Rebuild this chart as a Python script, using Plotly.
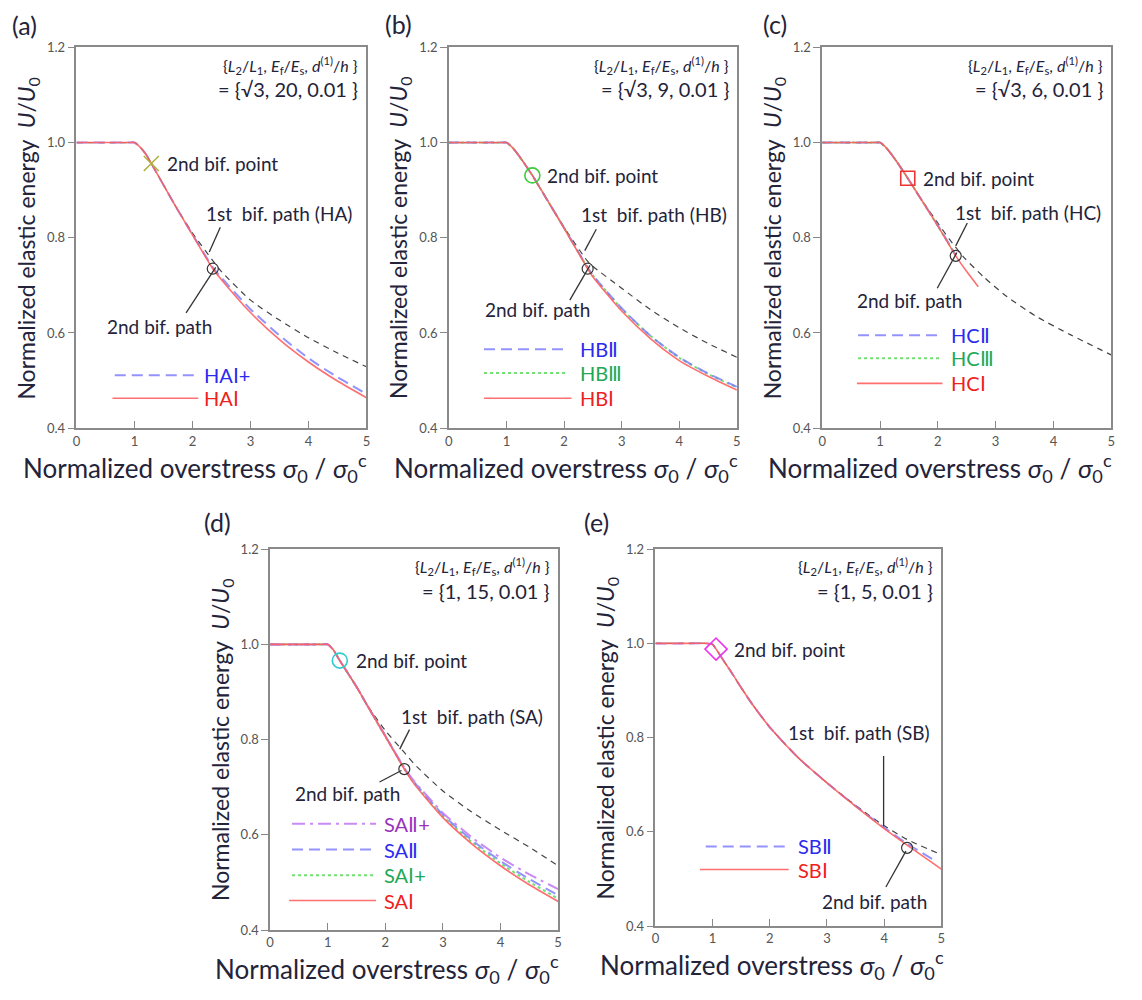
import plotly.graph_objects as go

W, H = 1142, 1000

# ------------------------------------------------------------------ data
# (a)  {sqrt3, 20, 0.01}
sig_a = [0, 0.5, 0.9, 1.0, 1.1, 1.2, 1.3, 1.5, 1.7, 2.0, 2.35, 2.5, 3.0, 3.5, 4.0, 4.5, 5.0]
U_HA1st = [1, 1, 1, 1.0, 0.99, 0.975, 0.954, 0.911, 0.868, 0.810, 0.752, 0.729, 0.669, 0.627, 0.590, 0.558, 0.529]
U_HAIp = [1, 1, 1, 1.0, 0.99, 0.975, 0.954, 0.911, 0.868, 0.807, 0.738, 0.716, 0.650, 0.595, 0.547, 0.507, 0.472]
U_HAI = [1, 1, 1, 1.0, 0.99, 0.975, 0.954, 0.911, 0.868, 0.806, 0.735, 0.712, 0.643, 0.586, 0.539, 0.499, 0.464]

# (b)  {sqrt3, 9, 0.01}
sig_b = [0, 0.5, 0.9, 1.0, 1.1, 1.2, 1.3, 1.45, 1.7, 2.0, 2.4, 2.5, 3.0, 3.5, 4.0, 4.5, 5.0]
U_HB1st = [1, 1, 1, 1.0, 0.99, 0.975, 0.958, 0.931, 0.881, 0.822, 0.752, 0.740, 0.694, 0.649, 0.611, 0.578, 0.549]
U_HBII = [1, 1, 1, 1.0, 0.99, 0.975, 0.958, 0.931, 0.881, 0.821, 0.739, 0.721, 0.652, 0.594, 0.549, 0.515, 0.487]
U_HBIII = [1, 1, 1, 1.0, 0.99, 0.975, 0.958, 0.931, 0.881, 0.821, 0.739, 0.721, 0.651, 0.594, 0.548, 0.514, 0.486]
U_HBI = [1, 1, 1, 1.0, 0.99, 0.975, 0.958, 0.931, 0.881, 0.820, 0.737, 0.718, 0.646, 0.588, 0.542, 0.509, 0.480]

# (c)  {sqrt3, 6, 0.01}
sig_c1st = [0, 0.5, 0.9, 1.0, 1.1, 1.2, 1.3, 1.48, 1.7, 1.85, 2.0, 2.2, 2.45, 2.8, 3.2, 3.7, 4.3, 5.0]
U_HC1st = [1, 1, 1, 1.0, 0.99, 0.975, 0.958, 0.925, 0.883, 0.857, 0.831, 0.797, 0.759, 0.717, 0.676, 0.635, 0.596, 0.554]
sig_c2 = [0, 0.5, 0.9, 1.0, 1.1, 1.2, 1.3, 1.48, 1.7, 2.0, 2.31]
U_HCII = [1, 1, 1, 1.0, 0.99, 0.975, 0.958, 0.925, 0.883, 0.826, 0.764]
U_HCIII = [1, 1, 1, 1.0, 0.99, 0.975, 0.958, 0.925, 0.883, 0.825, 0.763]
sig_c = [0, 0.5, 0.9, 1.0, 1.1, 1.2, 1.3, 1.48, 1.7, 2.0, 2.31, 2.5, 2.7]
U_HCI = [1, 1, 1, 1.0, 0.99, 0.975, 0.958, 0.925, 0.883, 0.825, 0.762, 0.729, 0.697]

# (d)  {1, 15, 0.01}
sig_d = [0, 0.5, 0.9, 1.0, 1.1, 1.21, 1.3, 1.5, 1.7, 2.0, 2.33, 2.5, 3.0, 3.5, 4.0, 4.5, 5.0]
U_SA1st = [1, 1, 1, 1.0, 0.988, 0.966, 0.949, 0.911, 0.870, 0.819, 0.773, 0.749, 0.692, 0.648, 0.610, 0.574, 0.535]
U_SAIIp = [1, 1, 1, 1.0, 0.988, 0.966, 0.949, 0.911, 0.869, 0.808, 0.741, 0.713, 0.646, 0.595, 0.552, 0.517, 0.486]
U_SAII = [1, 1, 1, 1.0, 0.988, 0.966, 0.949, 0.911, 0.869, 0.808, 0.740, 0.711, 0.642, 0.589, 0.545, 0.507, 0.473]
U_SAIp = [1, 1, 1, 1.0, 0.988, 0.966, 0.949, 0.911, 0.869, 0.807, 0.739, 0.709, 0.639, 0.585, 0.540, 0.501, 0.466]
U_SAI = [1, 1, 1, 1.0, 0.988, 0.966, 0.949, 0.911, 0.869, 0.807, 0.738, 0.707, 0.636, 0.581, 0.535, 0.495, 0.460]

# (e)  {1, 5, 0.01}
sig_e1st = [0, 0.5, 0.9, 1.0, 1.06, 1.2, 1.3, 1.5, 1.7, 2.0, 2.5, 3.0, 3.5, 4.0, 4.4, 4.95]
U_SB1st = [1, 1, 1, 0.998, 0.988, 0.962, 0.944, 0.906, 0.870, 0.822, 0.757, 0.704, 0.656, 0.613, 0.584, 0.554]
sig_e2 = [0, 0.5, 0.9, 1.0, 1.06, 1.2, 1.3, 1.5, 1.7, 2.0, 2.5, 3.0, 3.5, 4.0, 4.4, 4.9]
U_SBII = [1, 1, 1, 0.998, 0.988, 0.962, 0.944, 0.906, 0.870, 0.822, 0.757, 0.704, 0.655, 0.609, 0.575, 0.538]
sig_e = [0, 0.5, 0.9, 1.0, 1.06, 1.2, 1.3, 1.5, 1.7, 2.0, 2.5, 3.0, 3.5, 4.0, 4.4, 5.0]
U_SBI = [1, 1, 1, 0.998, 0.988, 0.962, 0.944, 0.906, 0.870, 0.822, 0.757, 0.704, 0.654, 0.607, 0.572, 0.521]

# 2nd bifurcation points (symbol markers) and 2nd-bif-path circles
bif2_x = [1.29, 1.45, 1.48, 1.21, 1.06]
bif2_y = [0.956, 0.931, 0.925, 0.966, 0.988]
path2_x = [2.35, 2.41, 2.31, 2.33, 4.40]
path2_y = [0.735, 0.735, 0.762, 0.738, 0.566]

panel_tags = ["(a)", "(b)", "(c)", "(d)", "(e)"]
param_vals = ["= {√3, 20, 0.01 }", "= {√3, 9, 0.01 }", "= {√3, 6, 0.01 }",
              "= {1, 15, 0.01 }", "= {1, 5, 0.01 }"]
path1_names = ["1st\u00a0 bif. path (HA)", "1st\u00a0 bif. path (HB)", "1st\u00a0 bif. path (HC)",
               "1st\u00a0 bif. path (SA)", "1st\u00a0 bif. path (SB)"]

x_ticks = [0, 1, 2, 3, 4, 5]
y_ticks = [0.4, 0.6, 0.8, 1.0, 1.2]

# ------------------------------------------------------------------ styles
TXT = "#23233a"
FONT = "Lato, 'Open Sans', sans-serif"
STY = {
    "red": dict(color="rgba(255,95,95,0.9)", width=1.6, dash="solid"),
    "blue": dict(color="rgba(120,120,255,0.8)", width=2, dash="11px,6px"),
    "green": dict(color="rgba(100,220,100,0.9)", width=2, dash="3px,3px"),
    "purple": dict(color="rgba(195,125,240,0.9)", width=2, dash="13px,5px,3px,5px"),
    "black": dict(color="#444444", width=1.2, dash="6px,5px"),
}
LBL = {"red": "#ee2020", "blue": "#2a2af0", "green": "#22a855", "purple": "#9933bb"}

# pixel layout of each plot area: left, right, top, bottom
boxes = [(73, 365, 40, 427), (448, 738, 40, 427), (824, 1115, 40, 427),
         (268, 558, 550, 937), (656, 944, 550, 933)]
tag_pos = [(6, 17), (382, 16), (762, 16), (199, 522), (582, 522)]

# series per panel: (x, y, style)
series = [
    [(sig_a, U_HA1st, "black"), (sig_a, U_HAIp, "blue"), (sig_a, U_HAI, "red")],
    [(sig_b, U_HB1st, "black"), (sig_b, U_HBIII, "green"), (sig_b, U_HBII, "blue"), (sig_b, U_HBI, "red")],
    [(sig_c1st, U_HC1st, "black"), (sig_c2, U_HCIII, "green"), (sig_c2, U_HCII, "blue"), (sig_c, U_HCI, "red")],
    [(sig_d, U_SA1st, "black"), (sig_d, U_SAIp, "green"), (sig_d, U_SAII, "blue"), (sig_d, U_SAIIp, "purple"), (sig_d, U_SAI, "red")],
    [(sig_e1st, U_SB1st, "black"), (sig_e2, U_SBII, "blue"), (sig_e, U_SBI, "red")],
]

# in-plot legend: (x0, x1, y, text_x, label, style)
legends = [
    [(0.66, 2.09, 0.511, 2.17, "HAⅠ+", "blue"), (0.62, 2.10, 0.463, 2.17, "HAⅠ", "red")],
    [(0.61, 2.07, 0.566, 2.24, "HBⅡ", "blue"), (0.61, 2.07, 0.516, 2.24, "HBⅢ", "green"),
     (0.61, 2.13, 0.463, 2.24, "HBⅠ", "red")],
    [(0.62, 2.04, 0.595, 2.20, "HCⅡ", "blue"), (0.62, 2.06, 0.547, 2.20, "HCⅢ", "green"),
     (0.60, 2.08, 0.494, 2.20, "HCⅠ", "red")],
    [(0.38, 1.84, 0.623, 1.94, "SAⅡ+", "purple"), (0.38, 1.84, 0.569, 1.94, "SAⅡ", "blue"),
     (0.38, 1.84, 0.515, 1.94, "SAⅠ+", "green"), (0.33, 1.84, 0.462, 1.94, "SAⅠ", "red")],
    [(0.88, 2.30, 0.569, 2.45, "SBⅡ", "blue"), (0.78, 2.33, 0.520, 2.45, "SBⅠ", "red")],
]

# text label anchors (data coords)
pt2_text = [(1.52, 0.956), (1.67, 0.931), (1.71, 0.925), (1.46, 0.966), (1.34, 0.988)]
path1_text = [(3.50, 0.852), (3.57, 0.849), (3.56, 0.854), (3.51, 0.849), (3.56, 0.810)]
path2_text = [(1.44, 0.613), (1.54, 0.649), (1.51, 0.669), (1.35, 0.687), (3.83, 0.452)]
# leader lines (x0, y0, x1, y1)
lead1 = [(2.48, 0.822, 2.29, 0.770), (2.56, 0.818, 2.36, 0.773), (2.51, 0.831, 2.31, 0.783),
         (2.42, 0.821, 2.25, 0.780), (3.99, 0.761, 3.99, 0.612)]
lead2 = [(1.89, 0.642, 2.40, 0.738), (2.10, 0.669, 2.45, 0.742), (1.99, 0.694, 2.33, 0.769),
         (1.90, 0.711, 2.28, 0.735), (4.03, 0.483, 4.38, 0.559)]

bif2_sym = ["x-thin-open", "circle-open", "square-open", "circle-open", "diamond-open"]
bif2_col = ["#b0b040", "#3ccc3c", "#ee3333", "#33cccc", "#ee33ee"]
bif2_size = [15, 15, 14, 15, 17]

# ------------------------------------------------------------------ figure
fig = go.Figure()
layout = dict(width=W, height=H, autosize=False, margin=dict(l=0, r=0, t=0, b=0),
              paper_bgcolor="white", plot_bgcolor="white", showlegend=False,
              font=dict(family=FONT, color=TXT))
annotations = []
shapes = []

for i in range(5):
    n = "" if i == 0 else str(i + 1)
    xa, ya = "x" + n, "y" + n
    l, r, t, b = boxes[i]
    common = dict(showline=True, linecolor="#8a8a8a", linewidth=1.5, mirror=True,
                  showgrid=False, zeroline=False, ticklen=7, tickwidth=1.2, tickcolor="#888",
                  tickfont=dict(size=13, color="#555", family=FONT))
    layout["xaxis" + n] = dict(common, domain=[l / W, r / W], anchor=ya, range=[0, 5],
                               tickvals=x_ticks, ticks="inside")
    layout["yaxis" + n] = dict(common, domain=[1 - b / H, 1 - t / H], anchor=xa, range=[0.4, 1.2],
                               tickvals=y_ticks, tickformat=".1f", ticks="outside")

    for (sx, sy, st) in series[i]:
        fig.add_trace(go.Scatter(x=sx, y=sy, mode="lines", line=dict(STY[st], shape="spline", smoothing=0.6),
                                 xaxis=xa, yaxis=ya, hoverinfo="skip"))

    # legend samples and labels
    for (x0, x1, yy, tx, lab, st) in legends[i]:
        shapes.append(dict(type="line", xref=xa, yref=ya, x0=x0, x1=x1, y0=yy, y1=yy, line=STY[st]))
        annotations.append(dict(xref=xa, yref=ya, x=tx, y=yy, text=lab, showarrow=False, xanchor="left",
                                yanchor="middle", font=dict(size=20, color=LBL[st], family=FONT)))

    # leader lines
    for ld in (lead1[i], lead2[i]):
        shapes.append(dict(type="line", xref=xa, yref=ya, x0=ld[0], y0=ld[1], x1=ld[2], y1=ld[3],
                           line=dict(color="#333", width=1.3)))

    # markers
    fig.add_trace(go.Scatter(x=[bif2_x[i]], y=[bif2_y[i]], mode="markers", xaxis=xa, yaxis=ya,
                             marker=dict(symbol=bif2_sym[i], size=bif2_size[i], color=bif2_col[i],
                                         line=dict(width=1.6, color=bif2_col[i])), hoverinfo="skip"))
    fig.add_trace(go.Scatter(x=[path2_x[i]], y=[path2_y[i]], mode="markers", xaxis=xa, yaxis=ya,
                             marker=dict(symbol="circle-open", size=11, color="#333",
                                         line=dict(width=1.2, color="#333")), hoverinfo="skip"))

    # annotation texts
    annotations.append(dict(xref=xa, yref=ya, x=pt2_text[i][0], y=pt2_text[i][1], text="2nd bif. point",
                            showarrow=False, xanchor="left", yanchor="middle", font=dict(size=19)))
    annotations.append(dict(xref=xa, yref=ya, x=path1_text[i][0], y=path1_text[i][1], text=path1_names[i],
                            showarrow=False, xanchor="center", yanchor="middle", font=dict(size=19)))
    annotations.append(dict(xref=xa, yref=ya, x=path2_text[i][0], y=path2_text[i][1], text="2nd bif. path",
                            showarrow=False, xanchor="center", yanchor="middle", font=dict(size=19)))

    # parameter box text
    annotations.append(dict(xref="paper", yref="paper", x=(r - 6) / W, y=1 - (t + 18) / H,
                            text="{<i>L</i><sub>2</sub>/<i>L</i><sub>1</sub>, <i>E</i><sub>f</sub>/<i>E</i><sub>s</sub>, "
                                 "<i>d</i><sup>(1)</sup>/<i>h</i> }",
                            showarrow=False, xanchor="right", yanchor="middle", font=dict(size=16)))
    annotations.append(dict(xref="paper", yref="paper", x=(r - 6) / W, y=1 - (t + 42) / H, text=param_vals[i],
                            showarrow=False, xanchor="right", yanchor="middle", font=dict(size=20)))

    # panel tag
    annotations.append(dict(xref="paper", yref="paper", x=tag_pos[i][0] / W, y=1 - tag_pos[i][1] / H,
                            text=panel_tags[i], showarrow=False, xanchor="left", yanchor="middle",
                            font=dict(size=25)))

    # axis titles
    annotations.append(dict(xref="paper", yref="paper", x=(l - 49) / W, y=1 - (t + b) / 2 / H,
                            text="Normalized elastic energy\u00a0 <i>U</i>/<i>U</i><sub>0</sub>",
                            textangle=-90, showarrow=False, xanchor="center", yanchor="middle",
                            font=dict(size=23)))
    annotations.append(dict(xref="paper", yref="paper", x=((l + r) / 2 - 27) / W, y=1 - (b + 40) / H,
                            text="Normalized overstress <i>σ</i><sub>0</sub> / <i>σ</i><sub>0</sub><sup>c</sup>",
                            showarrow=False, xanchor="center", yanchor="middle", font=dict(size=26)))

layout["annotations"] = annotations
layout["shapes"] = shapes
fig.update_layout(**layout)
fig.write_html("out.html")
